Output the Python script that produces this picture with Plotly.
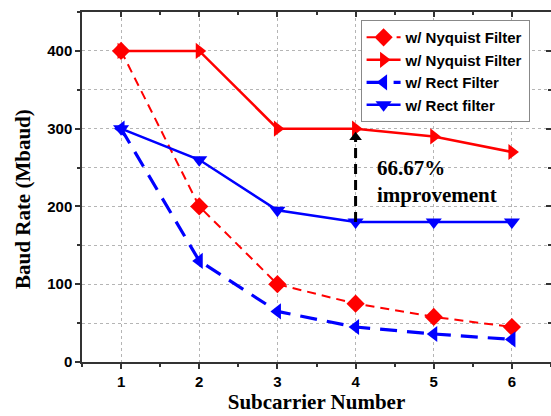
import plotly.graph_objects as go

# Subcarrier counts and measured baud rates (Mbaud)
subcarriers = [1, 2, 3, 4, 5, 6]
nyq_dashed = [400, 200, 100, 75, 58, 45]
nyq_solid = [400, 400, 300, 300, 290, 270]
rect_dashed = [300, 130, 65, 45, 36, 29]
rect_solid = [300, 260, 195, 180, 180, 180]

legend_names = ["w/ Nyquist Filter", "w/ Nyquist Filter", "w/ Rect Filter", "w/ Rect filter"]
y_ticks = [0, 100, 200, 300, 400]

RED = "#ff0000"
BLUE = "#0000ff"
AXIS = "#333333"
GRID = "#b5b5b5"

fig = go.Figure()

fig.add_trace(go.Scatter(
    x=subcarriers, y=nyq_dashed, name=legend_names[0], mode="lines+markers",
    line=dict(color=RED, width=2, dash="9px,6px"),
    marker=dict(symbol="diamond", size=14, color=RED),
))
fig.add_trace(go.Scatter(
    x=subcarriers, y=nyq_solid, name=legend_names[1], mode="lines+markers",
    line=dict(color=RED, width=2.5),
    marker=dict(symbol="triangle-right", size=14, color=RED),
))
fig.add_trace(go.Scatter(
    x=subcarriers, y=rect_dashed, name=legend_names[2], mode="lines+markers",
    line=dict(color=BLUE, width=3.2, dash="17px,10px"),
    marker=dict(symbol="triangle-left", size=14, color=BLUE),
))
fig.add_trace(go.Scatter(
    x=subcarriers, y=rect_solid, name=legend_names[3], mode="lines+markers",
    line=dict(color=BLUE, width=2.5),
    marker=dict(symbol="triangle-down", size=14, color=BLUE),
))

# Dashed improvement arrow at 4 subcarriers, from Rect to Nyquist rate
idx = subcarriers.index(4)
lo, hi = rect_solid[idx], nyq_solid[idx]
fig.add_trace(go.Scatter(
    x=[4, 4], y=[lo, hi - 14], mode="lines", showlegend=False, hoverinfo="skip",
    line=dict(color="black", width=3, dash="10px,6px"),
))
fig.add_trace(go.Scatter(
    x=[4], y=[hi - 11], mode="markers", showlegend=False, hoverinfo="skip",
    marker=dict(symbol="triangle-up", size=11, color="black"),
))

fig.add_annotation(
    x=4.25, y=232, xref="x", yref="y", xanchor="left", yanchor="middle",
    text="66.67%<br>improvement", showarrow=False, align="left",
    font=dict(family="Liberation Serif", size=21, color="black", weight="bold"),
)

tick_font = dict(family="Liberation Sans", size=15, color="black", weight="bold")
title_font = dict(family="Liberation Serif", size=21, color="black", weight="bold")

# Y-axis title, set slightly below the vertical centre of the plot
fig.add_annotation(
    x=0, y=0.466, xref="paper", yref="paper", xshift=-59, textangle=-90,
    text="Baud Rate (Mbaud)", showarrow=False, xanchor="center", yanchor="middle",
    font=title_font,
)

fig.update_layout(
    xaxis=dict(
        range=[0.5, 6.5], tickvals=subcarriers, ticks="outside", ticklen=5, tickwidth=1.5,
        tickcolor=AXIS, showline=True, linecolor=AXIS, linewidth=1.5,
        showgrid=True, gridcolor=GRID, griddash="dot", gridwidth=1,
        minor=dict(dtick=0.5, ticks="outside", ticklen=3, tickcolor=AXIS, showgrid=False),
        tickfont=tick_font, zeroline=False,
        title=dict(text="Subcarrier Number", font=title_font, standoff=6),
    ),
    yaxis=dict(
        range=[0, 450], tickvals=y_ticks, ticks="outside", ticklen=5,
        tickwidth=1.5, tickcolor=AXIS, showline=True, linecolor=AXIS, linewidth=1.5,
        showgrid=True, gridcolor=GRID, griddash="dot", gridwidth=1,
        minor=dict(dtick=50, ticks="outside", ticklen=3, tickcolor=AXIS,
                   showgrid=True, gridcolor=GRID, griddash="dot", gridwidth=1),
        tickfont=tick_font, zeroline=False,
    ),
    # Box edges on top and right with inward-pointing ticks
    xaxis2=dict(
        overlaying="x", side="top", range=[0.5, 6.5], tickvals=subcarriers,
        ticks="inside", ticklen=5, tickwidth=1.5, tickcolor=AXIS, showticklabels=False,
        showline=True, linecolor=AXIS, linewidth=1.5, showgrid=False, zeroline=False,
        minor=dict(dtick=0.5, ticks="inside", ticklen=3, tickcolor=AXIS, showgrid=False),
    ),
    yaxis2=dict(
        overlaying="y", side="right", range=[0, 450], tickvals=y_ticks,
        ticks="inside", ticklen=5, tickwidth=1.5, tickcolor=AXIS, showticklabels=False,
        showline=True, linecolor=AXIS, linewidth=1.5, showgrid=False, zeroline=False,
        minor=dict(dtick=50, ticks="inside", ticklen=3, tickcolor=AXIS, showgrid=False),
    ),
    width=551, height=416,
    margin=dict(l=82, r=0, t=12, b=54),
    plot_bgcolor="white", paper_bgcolor="white",
    legend=dict(
        x=0.594, y=0.977, xanchor="left", yanchor="top",
        bgcolor="white", bordercolor="#888", borderwidth=1,
        font=dict(family="Liberation Sans", size=15, color="black", weight="bold"),
        tracegroupgap=0, itemwidth=34,
    ),
)

# Invisible trace that anchors the top/right box axes
fig.add_trace(go.Scatter(
    x=[subcarriers[0]], y=[y_ticks[0]], xaxis="x2", yaxis="y2", mode="markers",
    marker=dict(opacity=0), showlegend=False, hoverinfo="skip",
))

fig.write_html("out.html")
